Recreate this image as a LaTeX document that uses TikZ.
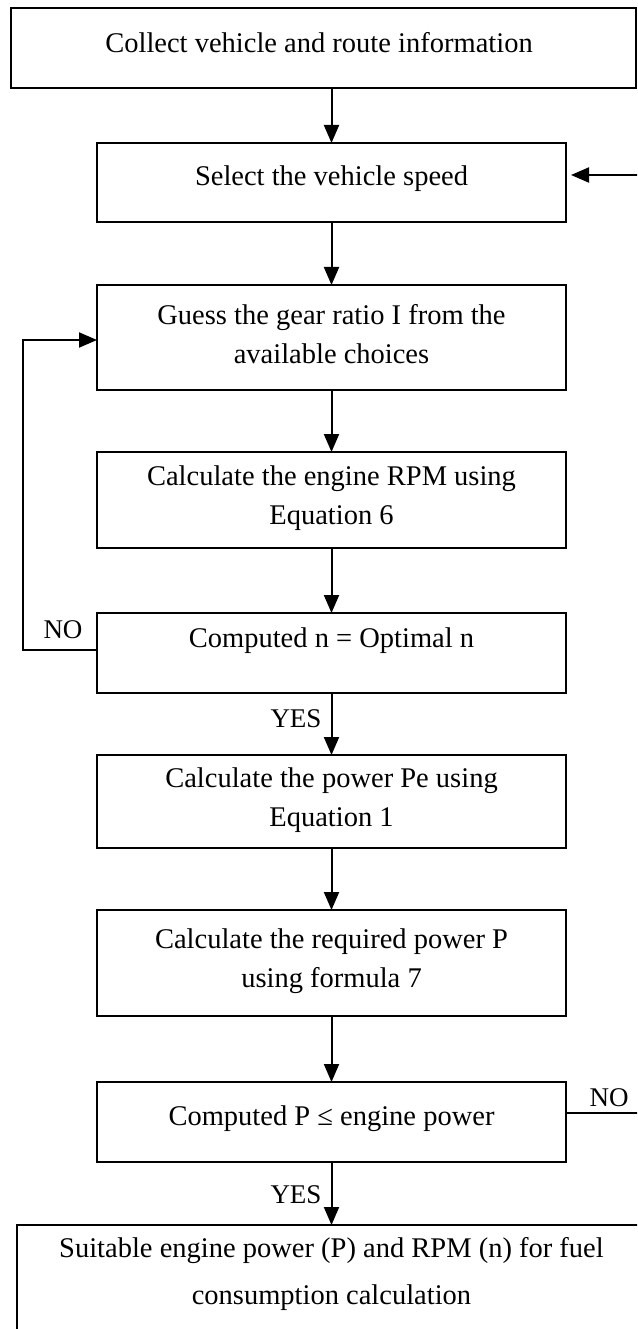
\documentclass[tikz,border=0pt]{standalone}
\usepackage{fontspec}
\setmainfont{Liberation Serif}
\usetikzlibrary{arrows.meta}
\begin{document}
\begin{tikzpicture}[x=1pt,y=-1pt,
  box/.style={draw, line width=2pt, rectangle, inner sep=0pt, outer sep=0pt},
  txt/.style={font=\fontsize{28.5}{39}\selectfont, align=center, inner sep=0pt},
  lbl/.style={font=\fontsize{27}{30}\selectfont, inner sep=0pt},
  arr/.style={line width=2pt, -{Triangle[length=18pt,width=15pt]}}]
\useasboundingbox (0,0) rectangle (637,1329);
\fill[white] (0,0) rectangle (637,1329);
\clip (0,0) rectangle (637,1329);
% boxes
\node[box, minimum width=625pt, minimum height=80pt] (b1) at (323.5,48) {};
\node[box, minimum width=469pt, minimum height=79pt] (b2) at (331.5,182.5) {};
\node[box, minimum width=469pt, minimum height=105pt] (b3) at (331.5,337.5) {};
\node[box, minimum width=469pt, minimum height=96pt] (b4) at (331.5,500) {};
\node[box, minimum width=469pt, minimum height=80pt] (b5) at (331.5,653) {};
\node[box, minimum width=469pt, minimum height=93pt] (b6) at (331.5,801.5) {};
\node[box, minimum width=469pt, minimum height=106pt] (b7) at (331.5,963) {};
\node[box, minimum width=469pt, minimum height=80pt] (b8) at (331.5,1122) {};
\node[box, minimum width=629pt, minimum height=135pt] (b9) at (331.5,1292.5) {};
% texts
\node[txt] (t1) at (319,43) {Collect vehicle and route information};
\node[txt] (t2) at (331.5,179) {Select the vehicle speed};
\node[txt] (t3) at (331.5,334) {Guess the gear ratio I from the\\available choices};
\node[txt] (t4) at (331.5,498) {Calculate the engine RPM using\\Equation 6};
\node[txt] (t5) at (331.5,641) {Computed n = Optimal n};
\node[txt] (t6) at (331.5,800) {Calculate the power Pe using\\Equation 1};
\node[txt] (t7) at (331.5,961) {Calculate the required power P\\using formula 7};
\node[txt] (t8) at (331.5,1119) {Computed P ≤ engine power};
\node[txt, font=\fontsize{28.5}{47}\selectfont] (t9) at (331.5,1274) {Suitable engine power (P) and RPM (n) for fuel\\consumption calculation};
% labels
\node[lbl] (n1) at (63,630) {NO};
\node[lbl] (n2) at (609,1098) {NO};
\node[lbl] (y1) at (296,719) {YES};
\node[lbl] (y2) at (296,1195) {YES};
% connectors
\draw[arr] (b2.north |- b1.south) -- (b2.north);
\draw[arr] (b2.south) -- (b3.north);
\draw[arr] (b3.south) -- (b4.north);
\draw[arr] (b4.south) -- (b5.north);
\draw[arr] (b5.south) -- (b6.north);
\draw[arr] (b6.south) -- (b7.north);
\draw[arr] (b7.south) -- (b8.north);
\draw[arr] (b8.south) -- (b9.north);
\draw[arr] ([yshift=3pt]b5.west) -- ++(-74,0) |- ([yshift=-2.5pt]b3.west);
\coordinate (rc) at (680,0);
\draw[arr, shorten >=5pt] ([yshift=9pt]b8.east) -- ([yshift=9pt]b8.east -| rc) |- ([yshift=7.5pt]b2.east);
\end{tikzpicture}
\end{document}
